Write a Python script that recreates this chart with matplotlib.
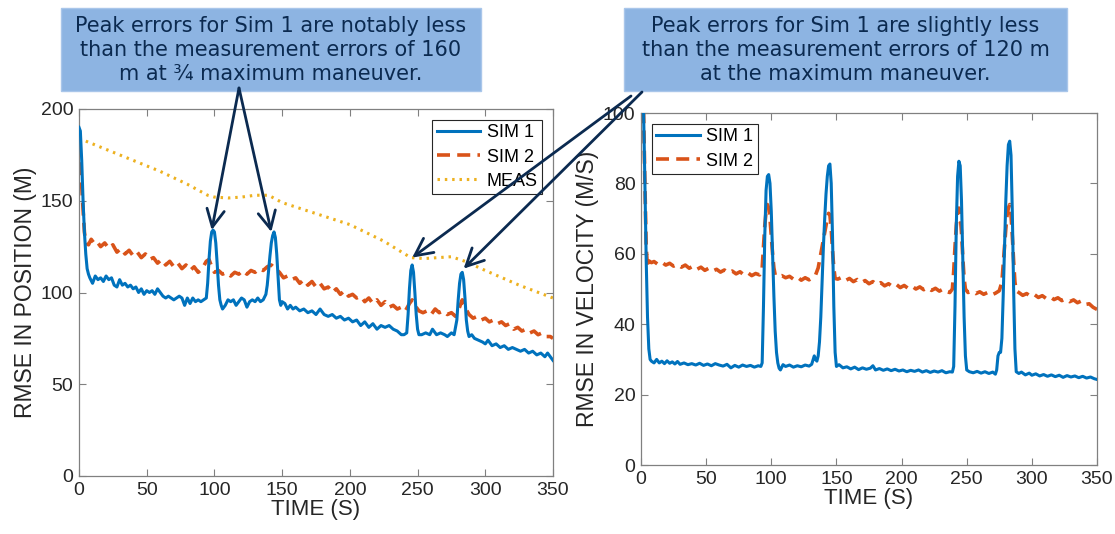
import numpy as np
import matplotlib
matplotlib.use("Agg")
import matplotlib.pyplot as plt
from matplotlib.patches import Rectangle, ConnectionPatch

### Position RMSE, Sim 1
pos_t1 = [0, 1, 2, 3, 4, 5, 6, 7, 8, 10, 12, 14, 16, 18, 20, 22, 24, 26, 28, 30,
          32, 34, 36, 38, 40, 42, 44, 46, 48, 50, 52, 54, 56, 58, 60, 62, 64, 66, 68, 70,
          72, 74, 76, 78, 80, 82, 84, 86, 88, 90, 92, 94, 95, 96, 97, 98, 99, 100, 101, 102,
          103, 104, 105, 106, 108, 110, 112, 114, 116, 118, 120, 122, 124, 126, 128, 130, 132, 134, 136, 138,
          139, 140, 141, 142, 143, 144, 145, 146, 147, 148, 149, 150, 152, 154, 156, 158, 160, 163, 166, 169,
          172, 175, 178, 181, 184, 187, 190, 193, 196, 199, 202, 205, 208, 211, 214, 217, 220, 223, 226, 229,
          232, 235, 238, 240, 242, 243, 244, 245, 246, 247, 248, 249, 250, 251, 253, 256, 259, 261, 264, 267,
          270, 272, 275, 277, 279, 280, 281, 282, 283, 284, 285, 286, 287, 288, 290, 292, 295, 298, 300, 302,
          305, 308, 311, 314, 317, 320, 323, 326, 329, 332, 335, 338, 341, 344, 346, 348, 350]
pos_sim1 = [190, 188, 172, 150, 133, 121, 113, 110, 108, 105, 109, 107, 108, 106, 109, 107, 108, 104, 103, 107,
            104, 105, 103, 104, 102, 103, 100, 102, 99, 101, 100, 101, 99, 102, 100, 98, 97, 98, 97, 96,
            97, 98, 97, 93, 97, 94, 97, 95, 96, 95, 96, 97, 105, 118, 128, 133, 134, 133, 127, 116,
            104, 96, 93, 91, 93, 96, 95, 96, 93, 95, 97, 96, 92, 95, 96, 95, 97, 95, 96, 99,
            104, 112, 120, 127, 131, 133, 130, 121, 108, 96, 93, 95, 94, 91, 93, 91, 92, 90, 91, 89,
            90, 88, 91, 88, 87, 88, 86, 87, 85, 86, 84, 85, 82, 84, 81, 83, 80, 82, 81, 82,
            80, 79, 77, 77, 78, 88, 102, 112, 115, 111, 100, 88, 80, 77, 77, 78, 77, 80, 77, 78,
            77, 76, 78, 77, 85, 96, 105, 110, 111, 107, 97, 85, 79, 76, 77, 75, 74, 73, 72, 74,
            71, 72, 70, 71, 69, 70, 69, 68, 69, 67, 68, 66, 67, 65, 67, 65, 63]

### Position RMSE, Sim 2
pos_t2 = [0, 1, 2, 3, 4, 5, 7, 9, 11, 13, 16, 19, 22, 25, 28, 31, 34, 37, 40, 43,
          46, 49, 52, 55, 58, 61, 64, 67, 70, 73, 76, 79, 82, 85, 88, 91, 94, 96, 98, 100,
          103, 106, 109, 112, 115, 118, 121, 124, 127, 130, 133, 136, 139, 142, 145, 148, 151, 154, 157, 160,
          163, 166, 169, 172, 175, 178, 181, 184, 187, 190, 193, 196, 199, 202, 205, 208, 211, 214, 217, 220,
          223, 226, 229, 232, 235, 238, 241, 244, 246, 248, 251, 254, 257, 260, 263, 266, 269, 272, 275, 278,
          281, 283, 285, 288, 291, 294, 297, 300, 303, 306, 309, 312, 315, 318, 321, 324, 327, 330, 333, 336,
          339, 342, 345, 348, 350]
pos_sim2 = [182, 172, 158, 145, 133, 127, 126, 129, 127, 128, 125, 127, 124, 126, 122, 124, 121, 123, 120, 122,
            119, 121, 118, 119, 116, 118, 115, 117, 114, 116, 113, 115, 112, 114, 111, 113, 117, 118, 114, 111,
            112, 110, 111, 109, 111, 110, 112, 110, 112, 111, 113, 112, 114, 115, 113, 111, 108, 109, 107, 108,
            105, 107, 104, 106, 103, 105, 102, 103, 100, 102, 99, 101, 98, 99, 97, 98, 95, 97, 94, 96,
            93, 95, 92, 93, 91, 92, 90, 94, 96, 93, 90, 89, 90, 88, 91, 89, 90, 88, 89, 87,
            92, 96, 92, 88, 86, 87, 85, 86, 84, 85, 83, 84, 82, 83, 80, 81, 79, 80, 78, 79,
            77, 78, 76, 76, 75]

### Measurement error
meas_t = [0, 20, 40, 60, 80, 95, 100, 110, 120, 130, 140, 150, 175, 200, 225, 245, 255, 265, 275, 285,
          300, 325, 350]
meas = [184, 178, 172, 166, 159, 153, 152, 151.5, 152, 153, 153, 149, 143, 137, 128, 119, 118.5, 119, 119.5, 117,
        112, 104, 97]

### Velocity RMSE, Sim 1
vel_t1 = [0, 1, 2, 3, 4, 5, 6, 7, 8, 10, 12, 14, 16, 18, 20, 22, 24, 26, 28, 30,
          33, 36, 39, 42, 45, 48, 51, 54, 57, 60, 63, 66, 69, 72, 75, 78, 81, 84, 87, 90,
          92, 93, 94, 95, 96, 97, 98, 99, 100, 101, 102, 103, 104, 105, 106, 107, 109, 111, 114, 117,
          120, 123, 126, 129, 131, 133, 134, 135, 136, 137, 138, 139, 140, 141, 142, 143, 144, 145, 146, 147,
          148, 149, 150, 152, 155, 158, 161, 164, 167, 170, 173, 176, 178, 180, 183, 186, 189, 192, 195, 198,
          201, 204, 207, 210, 213, 216, 219, 222, 225, 228, 231, 234, 237, 239, 240, 241, 242, 243, 244, 245,
          246, 247, 248, 249, 250, 252, 255, 258, 261, 264, 267, 270, 272, 273, 274, 275, 276, 277, 278, 279,
          280, 281, 282, 283, 284, 285, 286, 287, 288, 290, 292, 295, 298, 300, 303, 306, 309, 312, 315, 318,
          321, 324, 327, 330, 333, 336, 339, 342, 345, 348, 350]
vel_sim1 = [118, 115, 100, 80, 58, 42, 33, 30, 29.5, 29, 30, 29, 29.5, 28.8, 29.6, 28.9, 29.3, 28.7, 29.4, 28.6,
            29, 28.5, 28.8, 28.4, 28.9, 28.3, 28.7, 28.2, 28.8, 28.4, 28.1, 28.6, 27.6, 28.3, 27.8, 28.4, 28, 28.3, 27.8, 28.2,
            28, 29, 45, 65, 78, 82, 82.5, 80, 72, 60, 48, 38, 32, 29, 27.5, 27, 28.5, 28, 28.4, 27.8,
            28.2, 27.9, 28.4, 28.1, 28.6, 31, 30, 29.5, 31, 35, 42, 52, 62, 70, 77, 82, 85, 85.5, 80, 65,
            45, 32, 28, 28.5, 27.6, 27.9, 27.3, 27.8, 27.1, 27.6, 27.2, 27.5, 28.2, 27, 27.4, 26.9, 27.3, 26.8, 27.2, 26.7,
            27, 26.5, 26.9, 26.6, 27, 26.4, 26.8, 26.3, 26.7, 26.4, 26.8, 26.2, 26.5, 26.4, 28, 45, 68, 82, 86.3, 85,
            75, 58, 42, 31, 27, 26.5, 26.2, 26.6, 26.1, 26.5, 26, 26.4, 25.8, 27, 31, 32, 32, 36, 48, 62,
            75, 85, 91, 92, 88, 72, 50, 33, 26.5, 26, 26.4, 25.6, 26.1, 25.5, 25.9, 25.3, 25.7, 25.2, 25.6, 25.1,
            25.5, 24.9, 25.4, 25, 25.3, 24.8, 25.2, 24.7, 25, 24.5, 24.3]

### Velocity RMSE, Sim 2
vel_t2 = [0, 1, 2, 3, 4, 5, 6, 8, 10, 13, 16, 19, 22, 25, 28, 31, 34, 37, 40, 43,
          46, 49, 52, 55, 58, 61, 64, 67, 70, 73, 76, 79, 82, 85, 88, 91, 93, 94, 95, 96,
          97, 98, 99, 100, 101, 102, 103, 105, 108, 111, 114, 117, 120, 123, 126, 129, 132, 134, 136, 138,
          140, 142, 143, 144, 145, 146, 147, 148, 149, 151, 154, 157, 160, 163, 166, 169, 172, 175, 178, 181,
          184, 187, 190, 193, 196, 199, 202, 205, 208, 211, 214, 217, 220, 223, 226, 229, 232, 235, 237, 239,
          240, 241, 242, 243, 244, 245, 246, 247, 248, 249, 251, 254, 257, 260, 263, 266, 269, 272, 275, 277,
          278, 279, 280, 281, 282, 283, 284, 285, 286, 287, 288, 290, 293, 296, 299, 302, 305, 308, 311, 314,
          317, 320, 323, 326, 329, 332, 335, 338, 341, 344, 347, 350]
vel_sim2 = [118, 112, 100, 80, 62, 56, 58, 57.5, 57.8, 57, 57.6, 56.8, 57.3, 56.5, 57, 56.2, 56.8, 55.9, 56.5, 55.6,
            56.2, 55.3, 55.9, 55.1, 55.6, 54.8, 55.4, 54.6, 55.1, 54.3, 54.9, 54, 54.6, 53.8, 54.4, 54, 56, 62, 68, 72,
            74, 73, 70, 65, 60, 56, 54, 53.5, 53.8, 53.2, 53.6, 52.8, 53.4, 52.5, 53.2, 52.6, 53.4, 54, 56, 60,
            64, 68, 70, 71.5, 71, 67, 61, 56, 53, 52.8, 53.3, 52.4, 53, 52.1, 52.7, 51.8, 52.4, 51.5, 52.1, 51.2,
            51.8, 50.9, 51.5, 50.7, 51.3, 50.4, 51, 50.2, 50.8, 50, 50.6, 49.8, 50.4, 49.6, 50.2, 49.4, 50, 49.2, 49, 50,
            55, 62, 68, 72, 73, 71, 66, 59, 53, 50, 49, 49.4, 48.7, 49.2, 48.5, 49, 48.3, 48.8, 49.5, 52,
            57, 62, 67, 71, 73, 74, 71, 65, 58, 52, 49.5, 49, 48.2, 48.7, 47.9, 48.4, 47.6, 48.1, 47.3, 47.8,
            47, 47.5, 46.7, 47.2, 46.4, 46.9, 46.1, 46.6, 45.6, 45.8, 44.8, 44.2]

x_ticks = [0, 50, 100, 150, 200, 250, 300, 350]
note_left = "Peak errors for Sim 1 are notably less\nthan the measurement errors of 160\nm at \u00be maximum maneuver."
note_right = "Peak errors for Sim 1 are slightly less\nthan the measurement errors of 120 m\nat the maximum maneuver."

c_blue, c_orange, c_yellow = "#0072BD", "#D95319", "#EDB120"
navy = "#0b2a50"
box_blue = "#8db4e2"

plt.rcParams["font.family"] = ["Liberation Sans", "DejaVu Sans"]

W, H = 1115, 534
fig = plt.figure(figsize=(W/100, H/100), dpi=100)

def px(x0, y0, x1, y1):
    # axes rectangle from pixel corners (top-left origin)
    return [x0/W, 1 - y1/H, (x1 - x0)/W, (y1 - y0)/H]

ax1 = fig.add_axes(px(79, 109, 553, 476))
ax2 = fig.add_axes(px(641, 113, 1097, 465))

dash = (0, (3.6, 2.0))
dots = (0, (0.8, 1.6))

ax1.plot(pos_t1, pos_sim1, color=c_blue, lw=2.2, label="SIM 1", zorder=3)
ax1.plot(pos_t2, pos_sim2, color=c_orange, lw=2.6, ls=dash, label="SIM 2", zorder=2)
ax1.plot(meas_t, meas, color=c_yellow, lw=2.2, ls=dots, label="MEAS", zorder=2)
ax1.set_ylim(0, 200)
ax1.set_yticks([0, 50, 100, 150, 200])
ax1.set_ylabel("RMSE IN POSITION (M)", fontsize=16.5, color="#262626", labelpad=3)

ax2.plot(vel_t1, vel_sim1, color=c_blue, lw=2.2, label="SIM 1", zorder=3)
ax2.plot(vel_t2, vel_sim2, color=c_orange, lw=2.6, ls=dash, label="SIM 2", zorder=2)
ax2.set_ylim(0, 100)
ax2.set_yticks([0, 20, 40, 60, 80, 100])
ax2.set_ylabel("RMSE IN VELOCITY (M/S)", fontsize=16.5, color="#262626", labelpad=3)

for ax, loc in ((ax1, "upper right"), (ax2, "upper left")):
    ax.set_xlim(0, 350)
    ax.set_xticks(x_ticks)
    ax.set_xlabel("TIME (S)", fontsize=16, color="#262626", labelpad=0)
    ax.tick_params(direction="in", top=True, right=True, length=5, width=0.8,
                   colors="#808080", labelcolor="#262626", labelsize=14, pad=4)
    for s in ax.spines.values():
        s.set_color("#808080")
        s.set_linewidth(0.9)
    leg = ax.legend(loc=loc, fontsize=13, fancybox=False, framealpha=1,
                    edgecolor="#262626", handlelength=2.4, borderpad=0.25,
                    labelspacing=0.4, handletextpad=0.35, borderaxespad=0.6)
    leg.get_frame().set_linewidth(0.8)

# Callout boxes
for (x0, x1), txt in (((61, 481), note_left), ((624, 1067), note_right)):
    fig.add_artist(Rectangle((x0/W, 1 - 91/H), (x1 - x0)/W, 83/H, transform=fig.transFigure,
                             facecolor=box_blue, edgecolor="#a9c6ea", lw=1, zorder=5))
    fig.text((x0 + x1)/2/W, 1 - 50/H, txt, ha="center", va="center", fontsize=15,
             color=navy, family="DejaVu Sans", linespacing=1.25, zorder=6)

# Arrows from the callouts to the peaks
arrows = [((239, 88), ax1, (98, 134)),
          ((239, 88), ax1, (142, 133)),
          ((631, 96), ax1, (246, 119)),
          ((642, 92), ax1, (284, 113))]
for (sx, sy), ax, tip in arrows:
    con = ConnectionPatch(xyA=(sx, H - sy), coordsA="figure pixels", xyB=tip, coordsB=ax.transData,
                          arrowstyle="->,head_length=0.9,head_width=0.45", mutation_scale=14,
                          color=navy, lw=2, zorder=7)
    fig.add_artist(con)

fig.savefig("out.png", dpi=100)
